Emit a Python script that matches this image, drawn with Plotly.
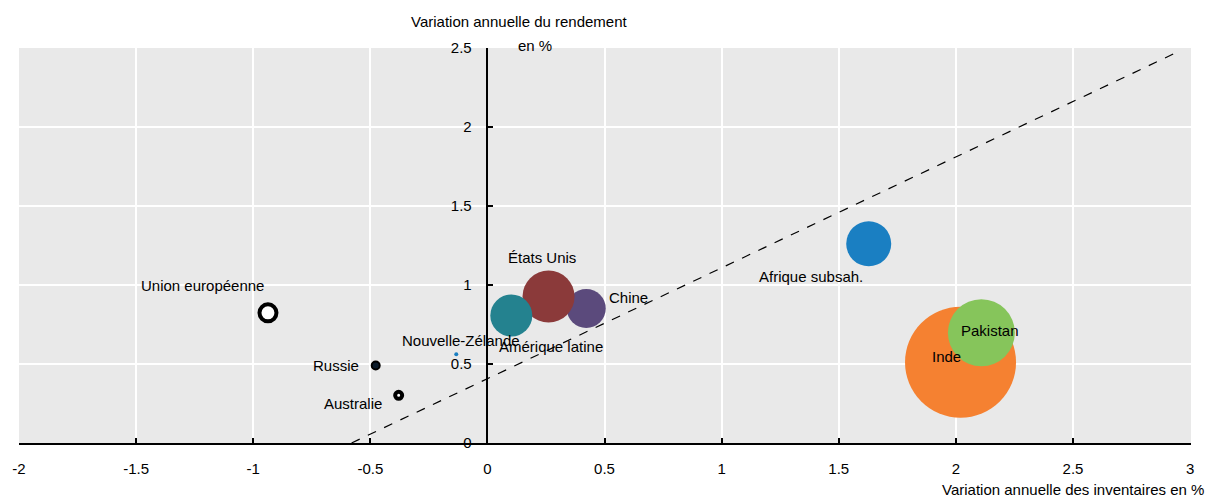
import plotly.graph_objects as go

# ---------------- data ----------------
regions = ["Chine", "États Unis", "Amérique latine", "Afrique subsah.", "Inde", "Pakistan",
           "Union européenne", "Russie", "Australie", "Nouvelle-Zélande"]
inventory_growth = [0.422, 0.261, 0.102, 1.628, 2.02, 2.109, -0.937, -0.477, -0.379, -0.133]
yield_growth = [0.851, 0.927, 0.807, 1.261, 0.511, 0.698, 0.824, 0.49, 0.302, 0.562]
bubble_size = [39, 52, 42, 45, 111, 67, 17, 8, 7, 4]

trend_x = [-0.58, 2.93]
trend_y = [0.0, 2.463]

x_ticks = [-2, -1.5, -1, -0.5, 0, 0.5, 1, 1.5, 2, 2.5, 3]
y_ticks = [0, 0.5, 1, 1.5, 2, 2.5]

# ---------------- styles ----------------
fill_colors = ["#5b4a7c", "#8b3a3a", "#24828f", "#1a7fc2", "#f58131", "#86c55b",
               "#ffffff", "#0a1a2a", "#ffffff", "#1a7fc2"]
line_colors = ["rgba(0,0,0,0)"] * 6 + ["#000000", "#000000", "#000000", "rgba(0,0,0,0)"]
line_widths = [0, 0, 0, 0, 0, 0, 4, 2, 4, 0]
# label offsets (pixels) and anchors
label_style = {
    "Chine": (21, 11, "left"),
    "États Unis": (-7, 39, "center"),
    "Amérique latine": (40, -31, "center"),
    "Afrique subsah.": (-58, -33, "center"),
    "Inde": (-14, 6, "center"),
    "Pakistan": (9, 2, "center"),
    "Union européenne": (-65, 27, "center"),
    "Russie": (-15, 0, "right"),
    "Australie": (-15, -8, "right"),
    "Nouvelle-Zélande": (5, 14, "center"),
}

FONT = "Liberation Sans, Arial, sans-serif"
FS = 15
x_range = [-2.0, 3.004]
yaxis_pos = (0 - x_range[0]) / (x_range[1] - x_range[0])

fig = go.Figure()

fig.add_trace(go.Scatter(
    x=trend_x, y=trend_y, mode="lines",
    line=dict(color="black", width=1.2, dash="dash"),
    hoverinfo="skip", showlegend=False,
))

for i, name in enumerate(regions):
    fig.add_trace(go.Scatter(
        x=[inventory_growth[i]], y=[yield_growth[i]], mode="markers",
        marker=dict(size=bubble_size[i], sizemode="diameter", color=fill_colors[i],
                    opacity=1, line=dict(color=line_colors[i], width=line_widths[i])),
        name=name, showlegend=False,
    ))

for i, name in enumerate(regions):
    dx, dy, anchor = label_style[name]
    fig.add_annotation(
        x=inventory_growth[i], y=yield_growth[i], xref="x", yref="y",
        text=name, showarrow=False, xanchor=anchor, yanchor="middle",
        xshift=dx, yshift=dy, font=dict(family=FONT, size=FS, color="#000000"),
    )

# axis titles
fig.add_annotation(x=0, y=1, xref="x", yref="paper", text="Variation annuelle du rendement",
                   showarrow=False, xanchor="center", yanchor="middle", xshift=32, yshift=27,
                   font=dict(family=FONT, size=FS, color="#000000"))
fig.add_annotation(x=0, y=1, xref="x", yref="paper", text="en %",
                   showarrow=False, xanchor="center", yanchor="middle", xshift=48, yshift=3,
                   font=dict(family=FONT, size=FS, color="#000000"))
fig.add_annotation(x=1, y=0, xref="paper", yref="paper", text="Variation annuelle des inventaires en %",
                   showarrow=False, xanchor="right", yanchor="middle", xshift=15, yshift=-46,
                   font=dict(family=FONT, size=FS, color="#000000"))

fig.update_layout(
    width=1208, height=497,
    margin=dict(l=16, r=17, t=48, b=54),
    paper_bgcolor="white", plot_bgcolor="#e9e9e9",
    font=dict(family=FONT, size=FS, color="#000000"),
    xaxis=dict(range=x_range, tickvals=x_ticks, ticktext=[f"{v:g}" for v in x_ticks],
               showgrid=True, gridcolor="white", gridwidth=2, zeroline=False,
               showline=True, linecolor="black", linewidth=1.5,
               ticks="inside", ticklen=5, tickcolor="black", tickwidth=1.5,
               ticklabelstandoff=11, fixedrange=True),
    yaxis=dict(range=[0, 2.5], tickvals=y_ticks, ticktext=[f"{v:g}" for v in y_ticks],
               anchor="free", position=yaxis_pos, side="left",
               showgrid=True, gridcolor="white", gridwidth=2, zeroline=False,
               showline=True, linecolor="black", linewidth=1.5,
               ticks="inside", ticklen=5, tickcolor="black", tickwidth=1.5,
               ticklabelstandoff=12, fixedrange=True),
)

fig.write_html("out.html", config={"displayModeBar": False},
               post_script="document.body.style.margin='0';document.body.style.overflow='hidden';")
